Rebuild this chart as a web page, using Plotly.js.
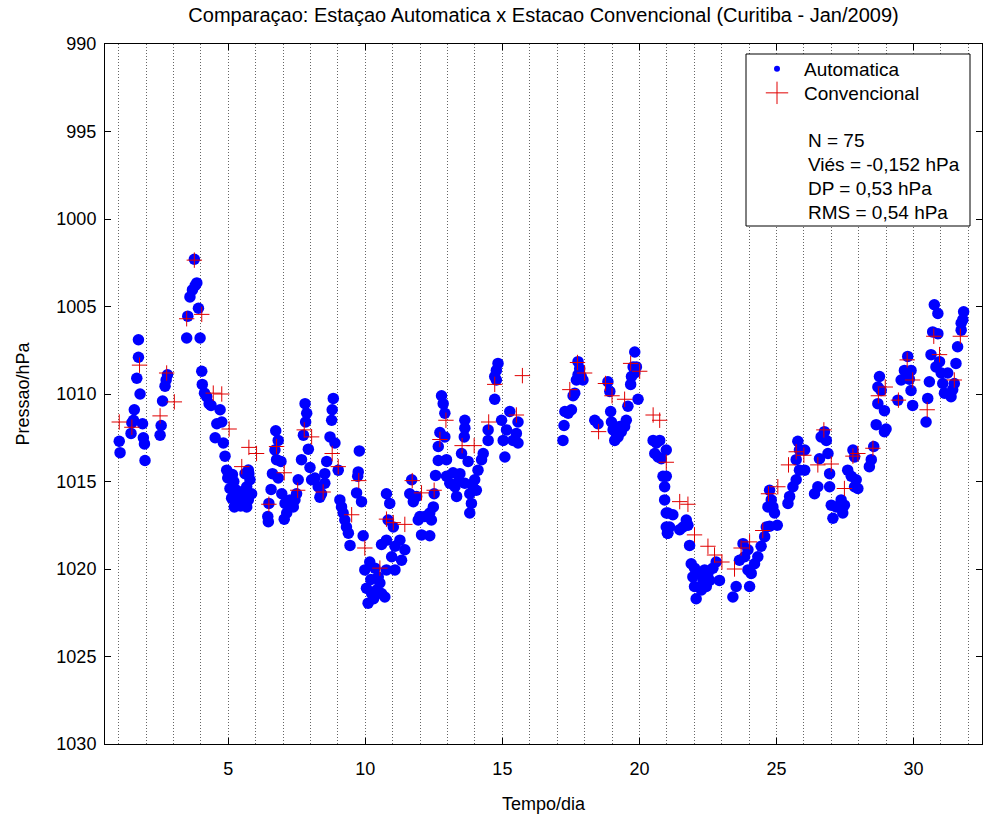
<!DOCTYPE html>
<html>
<head>
<meta charset="utf-8">
<script src="https://cdn.plot.ly/plotly-3.0.1.min.js"></script>
<style>html,body{margin:0;padding:0;background:#fff;}#chart{width:988px;height:814px;}</style>
</head>
<body>
<div id="chart"></div>
<script>
// Automatic station (hourly) — day of month, pressure in hPa
const autoDay = [
1.02,1.05,1.45,1.48,1.54,1.57,1.72,1.72,1.66,1.78,1.87,1.90,1.94,1.96,
2.51,2.55,2.60,2.69,2.73,2.78,
3.48,3.52,3.60,3.69,3.79,3.85,3.76,3.91,3.97,
4.03,4.05,4.13,4.21,4.30,4.37,4.70,4.76,4.58,4.52,4.82,4.88,4.94,4.98,
5.06,5.12,5.22,5.34,5.43,5.51,5.61,5.67,5.75,5.20,5.30,5.45,5.55,5.15,5.70,
5.73,5.79,5.85,5.73,5.67,
6.73,6.82,6.70,6.76,6.92,6.61,6.82,6.56,6.48,6.44,6.46,6.95,7.07,7.13,7.04,7.25,7.37,7.43,7.55,7.49,
7.80,7.86,7.82,7.74,7.92,7.67,7.98,8.04,8.16,8.28,8.40,8.52,8.34,
8.83,8.79,8.77,8.71,8.89,8.59,9.01,8.52,9.07,9.13,9.19,9.25,9.38,9.44,9.31,
9.78,9.74,9.72,9.68,9.86,9.92,
9.98,10.16,10.35,10.47,10.04,10.23,10.10,10.41,10.53,10.59,10.20,10.30,10.59,
10.77,10.89,10.83,11.02,10.77,11.08,11.26,11.44,10.96,11.32,11.08,10.77,10.71,
11.69,11.62,11.75,11.87,11.99,11.93,12.17,12.35,12.41,12.48,12.51,12.05,12.35,
12.78,12.84,12.90,12.72,12.90,12.66,12.66,12.96,12.56,12.96,13.08,13.27,13.33,
13.63,13.63,13.61,13.51,13.75,13.45,13.63,13.81,13.87,13.81,13.99,14.11,14.24,14.30,14.05,13.20,13.40,13.90,
14.84,14.78,14.72,14.78,14.72,14.48,14.48,14.97,15.27,15.57,15.15,15.03,15.51,15.39,15.09,15.57,
17.21,17.25,17.28,17.52,17.40,17.58,17.64,17.70,17.76,17.82,17.76,17.94,17.88,
18.37,18.49,18.85,18.92,18.95,18.98,19.04,19.10,19.22,19.34,19.46,19.52,19.28,19.16,
19.83,19.77,19.71,19.83,19.89,19.68,19.58,19.95,
20.50,20.62,20.74,20.56,20.68,20.80,20.86,20.92,20.92,20.98,20.98,21.02,
20.98,20.98,21.04,21.10,21.04,21.22,21.47,21.59,21.71,21.77,21.83,
21.89,22.01,21.95,22.01,22.07,22.20,22.32,22.38,22.50,22.56,22.68,22.80,22.92,22.44,22.26,
23.41,23.53,23.65,23.78,23.84,23.96,24.02,24.08,24.20,24.32,24.44,24.57,24.63,23.96,
24.75,24.81,24.87,24.93,24.69,24.75,25.03,
25.42,25.48,25.60,25.72,25.84,25.72,25.78,25.84,
26.03,26.03,26.57,26.63,26.75,26.82,26.88,26.94,26.51,26.39,26.94,27.00,27.06,27.18,27.42,27.48,27.36,
27.60,27.73,27.85,27.97,27.79,27.85,27.91,
28.39,28.46,28.55,28.64,28.76,28.70,28.82,28.70,28.94,29.00,28.94,
29.43,29.55,29.67,29.79,29.91,29.91,29.97,29.85,
30.46,30.52,30.58,30.64,30.70,30.76,30.89,30.89,30.82,31.01,31.07,31.13,30.95,
31.25,31.37,31.43,31.49,31.55,31.61,31.74,31.80,31.83,31.74
];
const autoP = [
1012.7,1013.35,1012.25,1011.64,1011.5,1010.9,1006.9,1007.9,1009.1,1010.0,1011.7,1012.5,1012.85,1013.8,
1012.35,1011.8,1010.4,1009.55,1009.2,1008.9,
1006.8,1005.55,1004.45,1004.05,1003.8,1003.65,1002.3,1005.1,1006.8,
1008.7,1009.45,1009.95,1010.15,1010.55,1010.65,1010.9,1011.6,1011.7,1012.5,1012.8,1013.55,1014.35,1014.8,
1015.4,1015.95,1016.45,1016.25,1015.7,1016.15,1014.55,1015.3,1014.55,1015.0,1015.5,1016.4,1015.6,1014.6,1016.0,
1014.34,1014.9,1015.7,1016.05,1016.45,
1012.1,1012.65,1013.2,1013.75,1013.85,1014.55,1014.8,1015.45,1016.25,1017.0,1017.3,1015.7,1016.25,1016.8,1017.15,1016.05,1016.45,1016.05,1014.9,1015.7,
1010.55,1011.1,1011.6,1012.35,1013.15,1013.75,1014.2,1014.9,1014.8,1015.3,1015.7,1015.1,1015.9,
1010.25,1010.9,1011.5,1012.45,1012.8,1013.85,1014.35,1014.55,1016.05,1016.45,1016.8,1017.2,1017.95,1018.65,1017.6,
1013.25,1014.45,1014.7,1015.65,1016.15,1018.1,
1020.05,1019.6,1019.95,1020.45,1021.1,1021.4,1021.95,1021.2,1020.8,1021.4,1020.6,1021.7,1018.6,
1015.7,1016.25,1017.2,1017.6,1018.35,1018.7,1018.35,1018.9,1019.3,1019.5,1020.05,1020.05,1021.6,
1014.9,1015.7,1016.15,1015.85,1017.0,1017.2,1017.0,1016.8,1017.2,1016.45,1015.7,1018.05,1018.1,
1010.1,1010.55,1011.1,1012.2,1012.45,1013.0,1013.8,1013.75,1014.65,1014.7,1015.1,1015.3,1015.85,
1011.5,1011.95,1012.45,1013.4,1013.85,1014.55,1015.1,1015.7,1016.25,1016.8,1014.9,1014.35,1013.75,1013.4,1015.5,1014.5,1015.0,1015.2,
1008.25,1008.65,1009.0,1009.2,1010.3,1012.05,1012.65,1011.5,1011.0,1011.6,1012.05,1012.65,1012.25,1012.65,1013.6,1012.8,
1012.65,1011.8,1011.0,1010.9,1011.1,1010.1,1009.95,1009.2,1008.9,1008.55,1008.15,1009.2,1009.0,
1011.5,1011.7,1009.3,1009.85,1011.0,1011.6,1012.05,1012.65,1012.45,1012.15,1011.85,1011.5,1011.85,1012.25,
1007.6,1008.45,1009.0,1008.8,1008.45,1009.45,1010.7,1010.3,
1012.65,1012.8,1012.65,1013.4,1013.6,1013.7,1014.7,1015.3,1016.05,1016.8,1017.6,1017.95,
1013.2,1014.7,1016.8,1017.6,1017.95,1016.9,1017.75,1017.6,1017.2,1017.5,1018.65,
1019.7,1019.95,1020.45,1021.0,1021.7,1020.25,1020.65,1020.05,1020.25,1020.65,1019.95,1019.6,1020.65,1021.0,1021.2,
1021.6,1021.0,1019.5,1018.55,1019.3,1020.05,1021.0,1020.25,1019.7,1019.3,1018.7,1018.15,1017.6,1018.9,
1015.5,1016.05,1016.45,1016.8,1016.45,1017.55,1017.5,
1016.25,1015.85,1015.3,1014.9,1014.35,1013.75,1012.7,1013.2,
1013.2,1014.35,1013.7,1012.45,1012.15,1012.65,1013.4,1014.55,1015.3,1015.7,1015.3,1016.35,1017.1,1016.45,1016.8,1016.35,1016.05,
1014.35,1014.7,1015.3,1015.4,1013.2,1013.6,1014.9,
1014.15,1013.75,1013.0,1011.75,1009.0,1009.6,1009.8,1010.55,1010.95,1012.0,1012.15,
1010.35,1009.2,1008.65,1007.85,1008.65,1009.8,1010.65,1009.15,
1011.6,1010.25,1009.3,1007.75,1006.45,1004.9,1005.4,1006.55,1008.45,1008.8,1009.4,1009.95,1008.15,
1008.8,1010.15,1009.75,1009.4,1008.25,1007.3,1006.35,1005.75,1005.3,1005.95
];
// Conventional station (synoptic observations)
const convDay = [
1.02,1.48,1.76,2.51,2.75,3.03,3.48,3.76,4.03,4.45,4.76,5.03,5.49,5.75,
6.03,6.76,7.04,6.48,7.53,7.77,8.04,8.46,8.79,9.01,9.50,9.76,9.98,10.53,
10.77,11.02,11.44,11.71,12.05,12.51,12.94,12.72,13.53,13.97,14.72,14.50,15.51,15.73,
17.46,17.74,18.00,18.51,18.76,19.00,19.46,19.68,20.01,20.50,20.74,20.98,
21.47,21.77,22.01,22.50,22.74,23.01,23.47,23.71,24.02,24.50,24.71,25.05,25.44,25.72,26.00,
26.51,27.00,26.73,27.48,27.79,27.97,28.72,28.97,28.52,29.45,29.77,29.97,30.50,30.74,30.95,31.49,31.71
];
const convP = [
1011.6,1011.9,1008.35,1011.25,1008.8,1010.45,1005.7,1002.35,1005.45,1009.95,1010.0,1012.0,1014.15,1013.05,
1013.4,1013.0,1014.5,1016.3,1015.5,1012.05,1012.45,1015.6,1013.4,1014.15,1016.9,1014.95,1018.8,1019.95,
1017.15,1017.35,1017.45,1014.95,1015.65,1015.5,1011.5,1012.6,1012.95,1012.95,1009.45,1011.6,1011.2,1008.95,
1009.75,1008.2,1008.8,1012.15,1009.4,1010.1,1010.3,1008.25,1008.7,1011.2,1011.5,1013.9,
1016.15,1016.3,1018.05,1018.7,1019.2,1019.6,1020.0,1018.8,1018.45,1017.8,1015.7,1015.3,1014.05,1013.3,1013.5,
1014.05,1014.0,1012.05,1015.4,1013.55,1013.4,1010.1,1009.6,1013.1,1010.35,1008.05,1009.2,1010.9,1006.7,1007.75,1009.2,1006.7
];
const xTicks = [5,10,15,20,25,30];
const yTicks = [990,995,1000,1005,1010,1015,1020,1025,1030];
const seriesNames = ['Automatica','Convencional'];
const statsLines = ['N = 75','Viés = -0,152 hPa','DP = 0,53 hPa','RMS = 0,54 hPa'];
const titleText = 'Comparaçao: Estaçao Automatica x Estacao Convencional (Curitiba - Jan/2009)';

const FONT = 'Liberation Sans, Arial, sans-serif';
const TICK = 18, LAB = 18, LEG = 19;
const traces = [
  {x:autoDay, y:autoP, type:'scatter', mode:'markers', showlegend:false,
   marker:{color:'#0000ff', size:11.5, line:{width:0}}},
  {x:convDay, y:convP, type:'scatter', mode:'markers', showlegend:false,
   marker:{symbol:'cross-thin', color:'#e00000', size:11, line:{color:'#e00000', width:1}}},
  {x:[null], y:[null], type:'scatter', mode:'markers', name:seriesNames[0], legend:'legend',
   marker:{color:'#0000ff', size:6}},
  {x:[null], y:[null], type:'scatter', mode:'markers', name:seriesNames[1], legend:'legend2',
   marker:{symbol:'cross-thin', color:'#e00000', size:16, line:{color:'#e00000', width:1}}}
];
const pl=105, pr=982, pt=44, pb=744;
const px = v => (v-pl)/(pr-pl);
const py = v => 1-(v-pt)/(pb-pt);
const legBase = {xanchor:'left', yanchor:'middle', bgcolor:'rgba(0,0,0,0)', borderwidth:0,
  font:{family:FONT, size:LEG, color:'#000'}, itemwidth:44};
const statY = [140,164,188,212];
const layout = {
  width:988, height:814,
  margin:{l:pl, r:988-pr, t:pt, b:814-pb, pad:0},
  paper_bgcolor:'#fff', plot_bgcolor:'#fff',
  font:{family:FONT, color:'#000', size:TICK},
  title:{text:titleText, font:{family:FONT, size:20, color:'#000'},
    x:0.5, xref:'paper', xanchor:'center', y:1-15/814, yref:'container', yanchor:'middle'},
  xaxis:{range:[0.5,32.5], tickvals:xTicks, ticks:'inside', ticklen:6, tickcolor:'#000',
    showline:true, linecolor:'#000', linewidth:1, mirror:'ticks', zeroline:false,
    showgrid:true, griddash:'1px,2px', gridcolor:'#666', gridwidth:1,
    minor:{dtick:1, tick0:0, showgrid:true, griddash:'1px,2px', gridcolor:'#666', gridwidth:1, ticks:''},
    tickfont:{family:FONT, size:TICK, color:'#000'}, ticklabelstandoff:8,
    title:{text:'Tempo/dia', font:{family:FONT, size:LAB, color:'#000'}, standoff:20}},
  yaxis:{range:[1030,990], tickvals:yTicks, ticks:'inside', ticklen:6, tickcolor:'#000',
    showline:true, linecolor:'#000', linewidth:1, mirror:'ticks', zeroline:false, showgrid:false,
    tickfont:{family:FONT, size:TICK, color:'#000'}, ticklabelstandoff:4,
    title:{text:'Pressao/hPa', font:{family:FONT, size:LAB, color:'#000'}, standoff:22}},
  showlegend:true,
  legend:Object.assign({x:px(750), y:py(69)}, legBase),
  legend2:Object.assign({x:px(750), y:py(93)}, legBase),
  shapes:[{type:'rect', xref:'paper', yref:'paper', x0:px(746), x1:px(970), y0:py(226), y1:py(54),
    line:{color:'#000', width:1}, fillcolor:'#fff', layer:'above'}],
  annotations: statsLines.map((t,i)=>({xref:'paper', yref:'paper', x:px(806), y:py(statY[i]),
    xanchor:'left', yanchor:'middle', align:'left', showarrow:false, text:t,
    font:{family:FONT, size:LEG, color:'#000'}}))
};
Plotly.newPlot('chart', traces, layout, {displayModeBar:false, staticPlot:true});
</script>
</body>
</html>
